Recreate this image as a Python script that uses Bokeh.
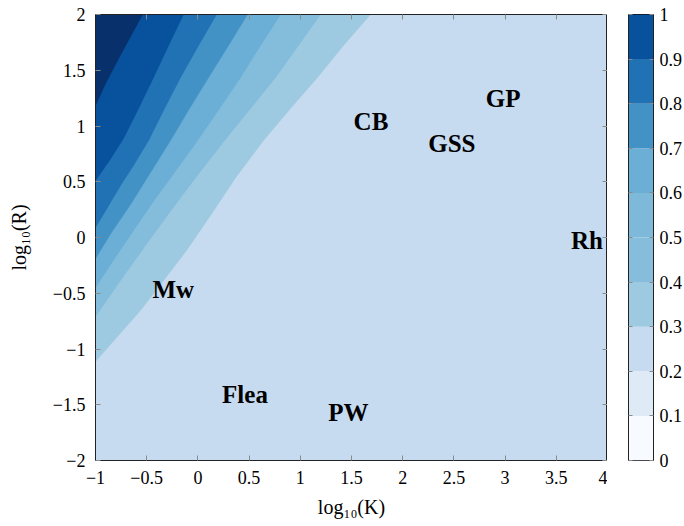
from bokeh.plotting import figure
from bokeh.models import LinearAxis, FixedTicker, Range1d, CustomJSTickFormatter
from bokeh.layouts import row
from bokeh.embed import file_html
from bokeh.resources import INLINE
from bokeh.core.properties import value

# ---- tick values / labels ----
x_ticks = [-1, -0.5, 0, 0.5, 1, 1.5, 2, 2.5, 3, 3.5, 4]
x_tick_labels = ["−1", "−0.5", "0", "0.5", "1", "1.5", "2", "2.5", "3", "3.5", "4"]
y_ticks = [-2, -1.5, -1, -0.5, 0, 0.5, 1, 1.5, 2]
y_tick_labels = ["−2", "−1.5", "−1", "−0.5", "0", "0.5", "1", "1.5", "2"]

# ---- contour boundaries (log10 K, log10 R), top edge -> left edge ----
# outermost boundary first
c7_x = [1.686, 1.422, 1.168, 0.904, 0.641, 0.377, 0.123, -0.111, -0.336, -0.561, -0.785, -1.0]
c7_y = [2.0, 1.722, 1.435, 1.157, 0.870, 0.547, 0.197, -0.117, -0.386, -0.655, -0.888, -1.112]
c6_x = [1.197, 0.982, 0.758, 0.514, 0.260, -0.014, -0.277, -0.512, -0.756, -1.0]
c6_y = [2.0, 1.722, 1.435, 1.157, 0.870, 0.547, 0.224, -0.072, -0.386, -0.709]
c5_x = [0.807, 0.611, 0.416, 0.211, -0.004, -0.229, -0.443, -0.629, -0.814, -1.0]
c5_y = [2.0, 1.722, 1.435, 1.157, 0.870, 0.583, 0.314, 0.063, -0.188, -0.448]
c4_x = [0.484, 0.299, 0.104, -0.082, -0.268, -0.463, -0.658, -0.844, -1.0]
c4_y = [2.0, 1.722, 1.435, 1.157, 0.870, 0.583, 0.296, 0.045, -0.188]
c3_x = [0.182, 0.006, -0.170, -0.326, -0.482, -0.629, -0.756, -0.883, -1.0]
c3_y = [2.0, 1.722, 1.435, 1.157, 0.870, 0.646, 0.466, 0.269, 0.090]
c2_x = [-0.141, -0.287, -0.434, -0.580, -0.727, -0.863, -1.0]
c2_y = [2.0, 1.722, 1.435, 1.157, 0.888, 0.691, 0.511]
c1_x = [-0.541, -0.668, -0.785, -0.902, -1.0]
c1_y = [2.0, 1.785, 1.587, 1.381, 1.184]

boundaries_x = [c7_x, c6_x, c5_x, c4_x, c3_x, c2_x, c1_x]
boundaries_y = [c7_y, c6_y, c5_y, c4_y, c3_y, c2_y, c1_y]
band_colors = ["#9ecae1", "#84bcdb", "#6baed6", "#4292c6", "#2171b5", "#08519c", "#08306b"]
background_color = "#c6dbef"

# ---- labelled points ----
species = ["CB", "GP", "GSS", "Rh", "Mw", "Flea", "PW"]
species_x = [1.69, 2.98, 2.48, 3.80, -0.24, 0.46, 1.47]
species_y = [1.04, 1.25, 0.84, -0.03, -0.47, -1.41, -1.57]

# ---- colour bar ----
cbar_levels = [0, 0.1, 0.2, 0.3, 0.4, 0.5, 0.6, 0.7, 0.8, 0.9, 1.0]
cbar_labels = ["0", "0.1", "0.2", "0.3", "0.4", "0.5", "0.6", "0.7", "0.8", "0.9", "1"]
cbar_colors = ["#f7fbff", "#deebf7", "#c6dbef", "#9ecae1", "#87bddc",
               "#7fb9da", "#6baed6", "#4292c6", "#2171b5", "#08519c"]

SERIF = "Liberation Serif"
TICK_FS = "18px"

p = figure(frame_width=512, frame_height=446,
           x_range=Range1d(-1, 4), y_range=Range1d(-2, 2),
           output_backend="svg", toolbar_location=None,
           min_border_left=95, min_border_top=14, min_border_right=0, min_border_bottom=10,
           background_fill_color=background_color, border_fill_color="white")
p.grid.visible = False
p.outline_line_color = "#222222"

# filled contour bands, painted from outermost to innermost
xs, ys = [], []
for bx, by in zip(boundaries_x, boundaries_y):
    xs.append(list(bx) + [bx[-1] - 0.1, bx[-1] - 0.1, bx[0]])
    ys.append(list(by) + [by[-1], by[0] + 0.1, by[0] + 0.1])
p.patches(xs, ys, fill_color=band_colors, line_color=band_colors, line_width=0.5)

p.text(x=species_x, y=species_y, text=species,
       text_font=value(SERIF), text_font_style="bold", text_font_size="25px",
       text_align="center", text_baseline="middle", text_color="black")

def style_axis(ax, ticks, labels=None):
    ax.ticker = FixedTicker(ticks=ticks)
    ax.minor_tick_line_color = None
    ax.major_tick_in = 5
    ax.major_tick_out = 0
    ax.major_tick_line_color = "#8a8a8a"
    ax.axis_line_color = "#222222"
    if labels is not None:
        ax.major_label_overrides = dict(zip(ticks, labels))
        ax.major_label_text_font = SERIF
        ax.major_label_text_font_size = TICK_FS
        ax.major_label_text_color = "black"
    else:
        ax.formatter = CustomJSTickFormatter(code="return ''")
        ax.major_label_standoff = 0

style_axis(p.xaxis[0], x_ticks, x_tick_labels)
style_axis(p.yaxis[0], y_ticks, y_tick_labels)
p.xaxis[0].major_label_standoff = 10
p.yaxis[0].major_label_standoff = 10
p.xaxis[0].axis_label = "log₁₀(K)"
p.yaxis[0].axis_label = "log₁₀(R)"
for ax in (p.xaxis[0], p.yaxis[0]):
    ax.axis_label_text_font = SERIF
    ax.axis_label_text_font_size = "20px"
    ax.axis_label_text_font_style = "normal"
    ax.axis_label_text_color = "black"
p.xaxis[0].axis_label_standoff = 9
p.yaxis[0].axis_label_standoff = 20

top_ax = LinearAxis()
style_axis(top_ax, x_ticks)
p.add_layout(top_ax, "above")
right_ax = LinearAxis()
style_axis(right_ax, y_ticks)
p.add_layout(right_ax, "right")

# colour bar as its own small figure
cb = figure(frame_width=25, frame_height=446,
            x_range=Range1d(0, 1), y_range=Range1d(0, 1),
            output_backend="svg", toolbar_location=None,
            min_border_left=21, min_border_top=14, min_border_right=0, min_border_bottom=10,
            y_axis_location="right", border_fill_color="white")
cb.grid.visible = False
cb.outline_line_color = "#111111"
cb.quad(left=0, right=1, bottom=cbar_levels[:-1], top=cbar_levels[1:],
        fill_color=cbar_colors, line_color=None)
cb.xaxis.visible = False
style_axis(cb.yaxis[0], cbar_levels, cbar_labels)
cb.yaxis[0].major_label_standoff = 6
cb.yaxis[0].major_tick_in = 4
left_cb_ax = LinearAxis()
style_axis(left_cb_ax, cbar_levels)
left_cb_ax.major_tick_in = 4
cb.add_layout(left_cb_ax, "left")

layout = row(p, cb)
open("out.html", "w").write(file_html(layout, INLINE))
